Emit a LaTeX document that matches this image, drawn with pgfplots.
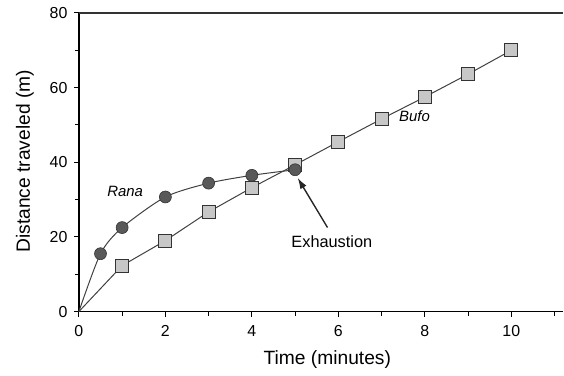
\documentclass[border=0pt]{standalone}
\usepackage{pgfplots}
\pgfplotsset{compat=1.18}
\usetikzlibrary{arrows.meta}
\usepackage{fontspec}
\setmainfont{Liberation Sans}
\begin{document}
\begin{tikzpicture}
\begin{axis}[
  scale only axis,
  width=485bp, height=299bp,
  xmin=0, xmax=11.2, ymin=0, ymax=80,
  axis x line*=bottom, axis y line*=left,
  axis line style={line width=1.6pt, -},
  xtick={0,2,4,6,8,10}, ytick={0,20,40,60,80},
  minor xtick={1,3,5,7,9,11}, minor ytick={10,30,50,70},
  tick align=outside,
  major tick length=5bp, minor tick length=4bp,
  tick style={line width=1pt, black},
  /pgf/number format/assume math mode=true,
  ticklabel style={font=\fontsize{16}{18}\selectfont},
  xticklabel style={yshift=-5bp},
  yticklabel style={xshift=-3bp},
  xlabel={Time (minutes)}, ylabel={Distance traveled (m)},
  label style={font=\fontsize{19.3}{21}\selectfont},
  xlabel style={at={(axis description cs:0.513,0)}, anchor=center, yshift=-48bp},
  ylabel style={at={(axis description cs:0,0.503)}, anchor=center, yshift=54bp},
  clip=false,
]
\path (rel axis cs:0,0) ++(-79bp,-64bp) (rel axis cs:1,1) ++(0,13bp);
\draw[line width=1.4pt, black!80] (rel axis cs:0,1) -- (rel axis cs:1,1);
% Rana
\addplot[smooth, line width=1pt, black!75, tension=0.45] coordinates {
 (0,0) (0.5,15.5) (1,22.5) (2,30.7) (3,34.4) (4,36.5) (5,38)};
% Bufo line
\addplot[line width=1pt, black!75] coordinates {
 (0,0) (1,12.3) (2,19) (3,26.7) (4,33.2) (5,39.3) (6,45.5) (7,51.6) (8,57.5) (9,63.6) (10,70)};
\addplot[only marks, mark=square*, mark size=6.5bp, mark options={fill=black!22, draw=black!80, line width=1pt}] coordinates {
 (1,12.3) (2,19) (3,26.7) (4,33.2) (5,39.3) (6,45.5) (7,51.6) (8,57.5) (9,63.6) (10,70)};
\addplot[only marks, mark=*, mark size=6bp, mark options={fill=black!65, draw=black!80, line width=0.6pt}] coordinates {
 (0.5,15.5) (1,22.5) (2,30.7) (3,34.4) (4,36.5) (5,38)};
\node[font=\itshape\fontsize{15}{17}\selectfont] at (axis cs:1.07,32.3) {Rana};
\node[font=\itshape\fontsize{15}{17}\selectfont] at (axis cs:7.76,52.4) {Bufo};
\node[font=\fontsize{16.4}{18}\selectfont] at (axis cs:5.85,18.6) {Exhaustion};
\draw[-{Latex[length=11bp,width=7bp]}, line width=1.4pt, black!85] (axis cs:5.75,22.5) -- (axis cs:5.06,35.8);
\end{axis}
\end{tikzpicture}
\end{document}
